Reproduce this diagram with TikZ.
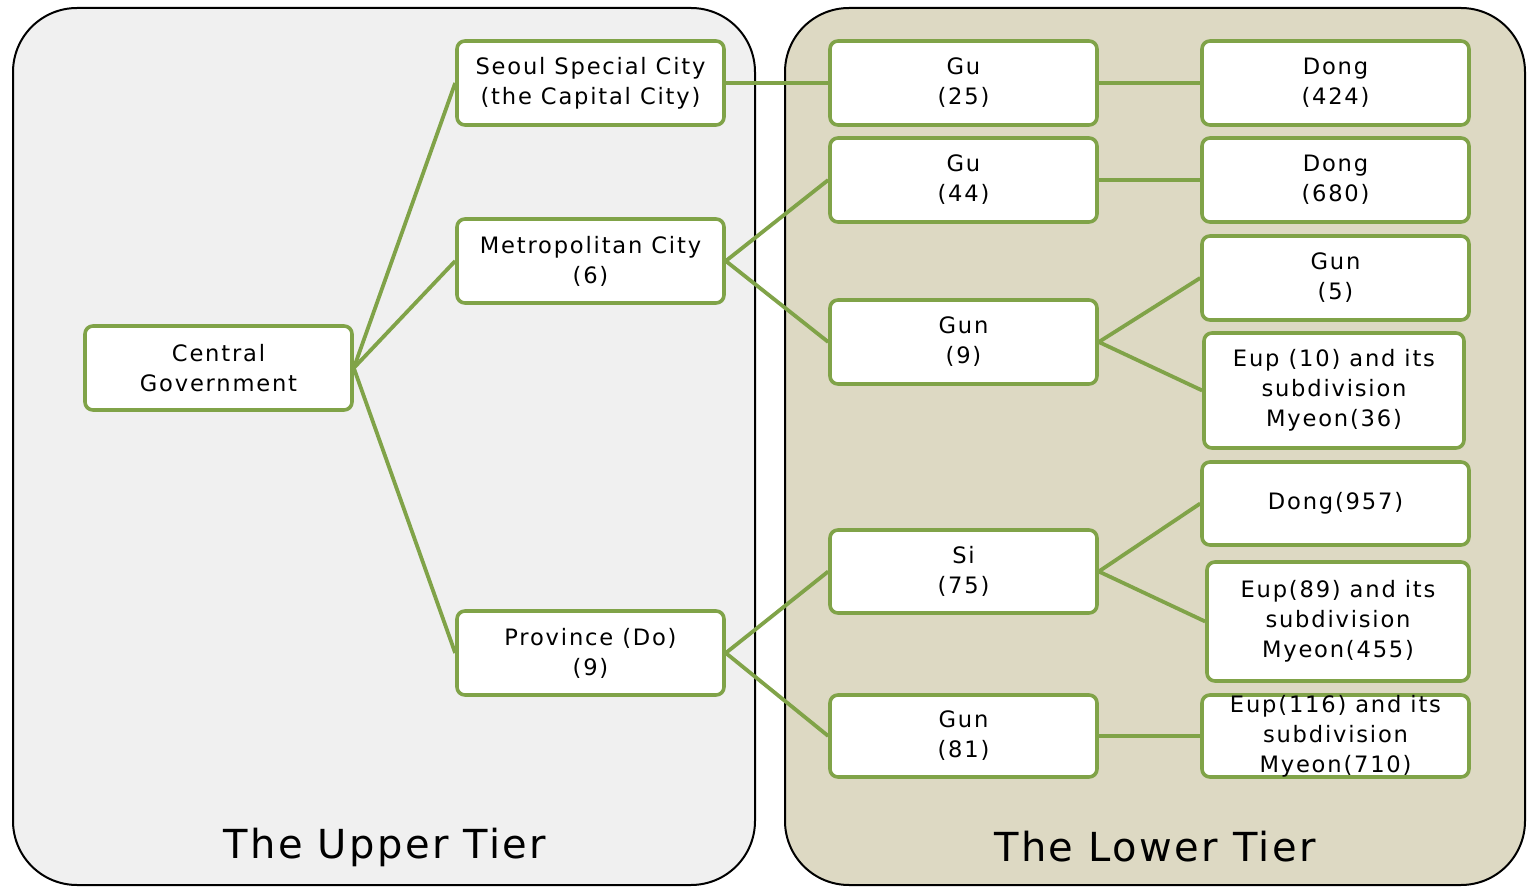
\documentclass[tikz,border=0pt]{standalone}
\usepackage{fontspec}
\setmainfont{DejaVu Sans}
\newfontfamily\dgboxfont[LetterSpace=8]{DejaVu Sans}
\newfontfamily\dgtitlefont[LetterSpace=6]{DejaVu Sans}
\definecolor{lgreen}{RGB}{128,163,72}
\definecolor{upperfill}{RGB}{240,240,240}
\definecolor{lowerfill}{RGB}{221,217,195}
\tikzset{
  panel/.style={draw=black, line width=1pt, rounded corners=32pt},
  unit/.style={draw=lgreen, fill=white, line width=1.8pt, rounded corners=4pt,
    inner sep=0pt, minimum width=133.5pt, minimum height=42pt, align=center,
    font=\dgboxfont\fontsize{11.3}{15}\selectfont},
  link/.style={draw=lgreen, line width=1.9pt},
  tiertitle/.style={font=\dgtitlefont\fontsize{20}{24}\selectfont, inner sep=0pt}
}
\begin{document}
\begin{tikzpicture}[x=0.5pt,y=-0.5pt]
\useasboundingbox (0,0) rectangle (1528,887);
\fill[white] (0,0) rectangle (1528,887);
\filldraw[panel, fill=upperfill] (13,8) rectangle (755,885);
\filldraw[panel, fill=lowerfill] (785,8) rectangle (1525,885);

\node[tiertitle] (tu) at (385,847) {The Upper Tier};
\node[tiertitle] (tl) at (1155,847) {The Lower Tier};

\node[unit] (cg) at (218.5,368) {Central\\Government};
\node[unit] (seoul) at (590.5,83) {Seoul Special City\\(the Capital City)};
\node[unit] (metro) at (590.5,261) {Metropolitan City\\(6)};
\node[unit] (prov) at (590.5,653) {Province (Do)\\(9)};

\node[unit] (gu25) at (963.5,83) {Gu\\(25)};
\node[unit] (gu44) at (963.5,180) {Gu\\(44)};
\node[unit] (gun9) at (963.5,342) {Gun\\(9)};
\node[unit, minimum height=41.5pt] (si75) at (963.5,571.5) {Si\\(75)};
\node[unit, minimum height=41pt] (gun81) at (963.5,736) {Gun\\(81)};

\node[unit] (dong424) at (1335.5,83) {Dong\\(424)};
\node[unit] (dong680) at (1335.5,180) {Dong\\(680)};
\node[unit] (gun5) at (1335.5,278) {Gun\\(5)};
\node[unit, minimum width=130pt, minimum height=57.5pt] (eup10) at (1334,390.5) {Eup (10) and its\\subdivision\\Myeon(36)};
\node[unit, minimum height=41.5pt] (dong957) at (1335.5,503.5) {Dong(957)};
\node[unit, minimum width=131pt, minimum height=59.5pt] (eup89) at (1338,621.5) {Eup(89) and its\\subdivision\\Myeon(455)};
\node[unit, minimum height=41pt] (eup116) at (1335.5,736) {Eup(116) and its\\subdivision\\Myeon(710)};

\draw[link] (cg.east) -- (seoul.west);
\draw[link] (cg.east) -- (metro.west);
\draw[link] (cg.east) -- (prov.west);
\draw[link] (seoul.east) -- (gu25.west);
\draw[link] (metro.east) -- (gu44.west);
\draw[link] (metro.east) -- (gun9.west);
\draw[link] (prov.east) -- (si75.west);
\draw[link] (prov.east) -- (gun81.west);
\draw[link] (gu25.east) -- (dong424.west);
\draw[link] (gu44.east) -- (dong680.west);
\draw[link] (gun9.east) -- (gun5.west);
\draw[link] (gun9.east) -- (eup10.west);
\draw[link] (si75.east) -- (dong957.west);
\draw[link] (si75.east) -- (eup89.west);
\draw[link] (gun81.east) -- (eup116.west);
\end{tikzpicture}
\end{document}
